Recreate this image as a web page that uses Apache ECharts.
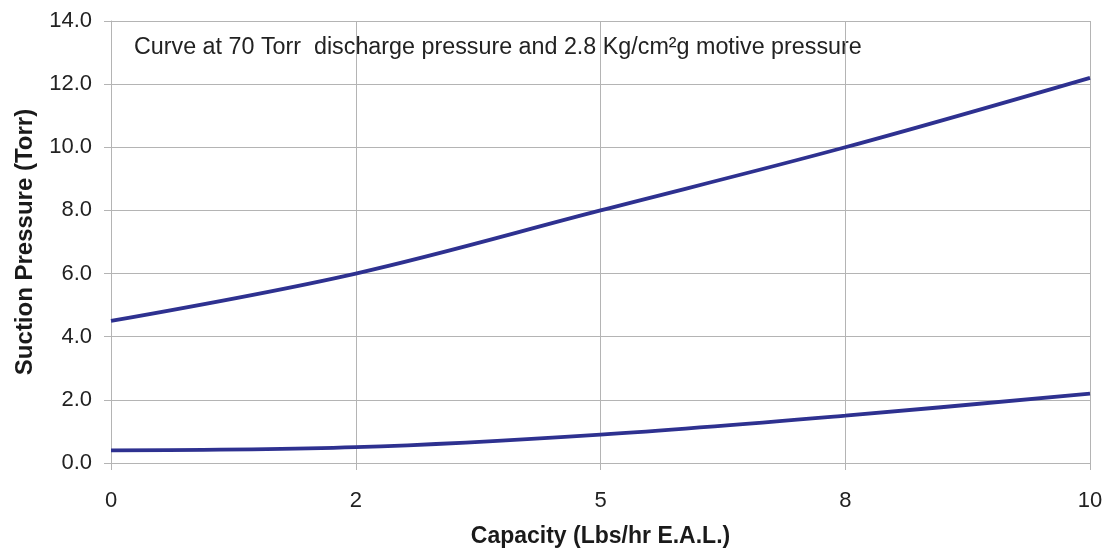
<!DOCTYPE html>
<html>
<head>
<meta charset="utf-8">
<script src="https://cdn.jsdelivr.net/npm/echarts@6/dist/echarts.min.js"></script>
<style>html,body{margin:0;padding:0;background:#fff;}#c{width:1106px;height:557px;}</style>
</head>
<body>
<div id="c"></div>
<script>
const categories = ['0', '2', '5', '8', '10'];
const upperCurve = [4.5, 6.0, 8.0, 10.0, 12.2];
const lowerCurve = [0.4, 0.5, 0.9, 1.5, 2.2];
const yTicks = { min: 0, max: 14, interval: 2 };
const noteText = 'Curve at 70 Torr  discharge pressure and 2.8 Kg/cm\u00B2g motive pressure';
const xTitle = 'Capacity (Lbs/hr E.A.L.)';
const yTitle = 'Suction Pressure (Torr)';

const FONT = '"Liberation Sans", Arial, sans-serif';
const gridColor = '#b4b4b4';
const lineColor = '#2e3190';

const chart = echarts.init(document.getElementById('c'), null, { renderer: 'canvas' });
chart.setOption({
  animation: false,
  backgroundColor: '#fff',
  grid: { left: 111, right: 16, top: 21, bottom: 94, containLabel: false },
  xAxis: {
    type: 'category',
    data: categories,
    boundaryGap: false,
    name: xTitle,
    nameLocation: 'middle',
    nameGap: 62,
    nameTextStyle: { fontFamily: FONT, fontSize: 23, fontWeight: 'bold', color: '#1a1a1a' },
    axisLine: { lineStyle: { color: gridColor, width: 1 } },
    axisTick: { show: true, length: 7, lineStyle: { color: gridColor } },
    axisLabel: { margin: 27, fontFamily: FONT, fontSize: 22, color: '#222' },
    splitLine: { show: true, lineStyle: { color: gridColor, width: 1 } }
  },
  yAxis: {
    type: 'value',
    min: yTicks.min,
    max: yTicks.max,
    interval: yTicks.interval,
    name: yTitle,
    nameLocation: 'middle',
    nameGap: 74,
    nameTextStyle: { fontFamily: FONT, fontSize: 24, fontWeight: 'bold', color: '#1a1a1a' },
    axisLine: { show: true, lineStyle: { color: gridColor, width: 1 } },
    axisTick: { show: true, length: 7, lineStyle: { color: gridColor } },
    axisLabel: { margin: 19, fontFamily: FONT, fontSize: 22, color: '#222', formatter: v => v.toFixed(1) },
    splitLine: { show: true, lineStyle: { color: gridColor, width: 1 } }
  },
  graphic: [{
    type: 'text',
    left: 134,
    top: 36,
    style: { text: noteText, font: '23.3px ' + FONT, fill: '#222' }
  }],
  series: [
    {
      type: 'line', data: upperCurve, smooth: 0.35, symbol: 'none',
      lineStyle: { color: lineColor, width: 3.8 }
    },
    {
      type: 'line', data: lowerCurve, smooth: 0.35, symbol: 'none',
      lineStyle: { color: lineColor, width: 3.8 }
    }
  ]
});
</script>
</body>
</html>
